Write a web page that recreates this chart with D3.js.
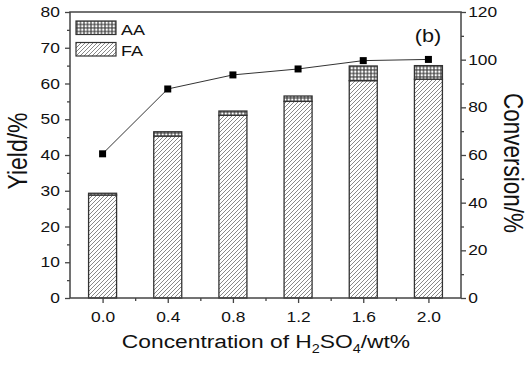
<!DOCTYPE html>
<html>
<head>
<meta charset="utf-8">
<script src="https://cdn.jsdelivr.net/npm/d3@7"></script>
<style>
  body { margin: 0; background: #fff; }
  svg { display: block; }
  text { font-family: "Liberation Sans", Arial, sans-serif; fill: #111; }
</style>
</head>
<body>
<svg id="chart" width="528" height="373"></svg>
<script>
const concentration = [0.0, 0.4, 0.8, 1.2, 1.6, 2.0];
const faYield = [28.8, 45.3, 51.1, 55.0, 60.8, 61.2];
const aaYield = [0.5, 1.2, 1.2, 1.5, 4.1, 3.8];
const conversion = [60.5, 87.7, 93.6, 96.1, 99.6, 100.1];

const xTicks = [0.0, 0.4, 0.8, 1.2, 1.6, 2.0];
const xMinor = [0.2, 0.6, 1.0, 1.4, 1.8];
const yTicks = [0, 10, 20, 30, 40, 50, 60, 70, 80];
const yMinor = [5, 15, 25, 35, 45, 55, 65, 75];
const y2Ticks = [0, 20, 40, 60, 80, 100, 120];
const y2Minor = [10, 30, 50, 70, 90, 110];

const area = { left: 70, right: 461, top: 12, bottom: 298 };
const stretch = 1.2; // text in the figure is a little wide
const axisColor = "#444";

const svg = d3.select("#chart");

const defs = svg.append("defs");
const hatch = defs.append("pattern")
    .attr("id", "hatch")
    .attr("patternUnits", "userSpaceOnUse")
    .attr("width", 4)
    .attr("height", 4);
hatch.append("rect").attr("width", 4).attr("height", 4).attr("fill", "#fff");
hatch.append("path")
    .attr("d", "M-1,1 L1,-1 M0,4 L4,0 M3,5 L5,3")
    .attr("stroke", "#6a6a6a")
    .attr("stroke-width", 0.8);

const dots = defs.append("pattern")
    .attr("id", "dots")
    .attr("patternUnits", "userSpaceOnUse")
    .attr("width", 3.5)
    .attr("height", 3.5);
dots.append("rect").attr("width", 3.5).attr("height", 3.5).attr("fill", "#555");
dots.append("circle").attr("cx", 1.75).attr("cy", 1.75).attr("r", 1.25).attr("fill", "#fff");

const scaleX = d3.scaleLinear().domain([-0.2, 2.2]).range([area.left, area.right]);
const scaleY = d3.scaleLinear().domain([0, 80]).range([area.bottom, area.top]);
const scaleY2 = d3.scaleLinear().domain([0, 120]).range([area.bottom, area.top]);

const barW = 28;

// stacked bars
const bars = svg.append("g");
concentration.forEach((c, i) => {
    const x = scaleX(c) - barW / 2;
    bars.append("rect")
        .attr("x", x)
        .attr("y", scaleY(faYield[i]))
        .attr("width", barW)
        .attr("height", scaleY(0) - scaleY(faYield[i]))
        .attr("fill", "url(#hatch)")
        .attr("stroke", "#333")
        .attr("stroke-width", 1.3);
    bars.append("rect")
        .attr("x", x)
        .attr("y", scaleY(faYield[i] + aaYield[i]))
        .attr("width", barW)
        .attr("height", scaleY(faYield[i]) - scaleY(faYield[i] + aaYield[i]))
        .attr("fill", "url(#dots)")
        .attr("stroke", "#333")
        .attr("stroke-width", 1.3);
});

// conversion line
const line = d3.line()
    .x((d, i) => scaleX(concentration[i]))
    .y(d => scaleY2(d));

svg.append("path")
    .datum(conversion)
    .attr("d", line)
    .attr("fill", "none")
    .attr("stroke", "#333")
    .attr("stroke-width", 1);

svg.append("g")
    .selectAll("rect")
    .data(conversion)
    .enter()
    .append("rect")
    .attr("x", (d, i) => scaleX(concentration[i]) - 3.5)
    .attr("y", d => scaleY2(d) - 3.5)
    .attr("width", 7)
    .attr("height", 7)
    .attr("fill", "#000");

// frame
svg.append("rect")
    .attr("x", area.left)
    .attr("y", area.top)
    .attr("width", area.right - area.left)
    .attr("height", area.bottom - area.top)
    .attr("fill", "none")
    .attr("stroke", axisColor)
    .attr("stroke-width", 1.5);

const styleAxis = (g, labelX) => {
    g.select(".domain").remove();
    g.selectAll("line").attr("stroke", axisColor).attr("stroke-width", 1.3);
    g.selectAll("text")
        .attr("font-size", 14.5)
        .attr("fill", "#111")
        .attr("transform", `scale(${stretch},1)`);
    if (labelX !== undefined) g.selectAll("text").attr("x", labelX);
};

svg.append("g")
    .attr("transform", `translate(${area.left},0)`)
    .call(d3.axisLeft(scaleY).tickValues(yTicks).tickSize(5).tickSizeOuter(0))
    .call(g => styleAxis(g, -8.5));
svg.append("g")
    .attr("transform", `translate(${area.left},0)`)
    .call(d3.axisLeft(scaleY).tickValues(yMinor).tickSize(3).tickFormat(""))
    .call(g => styleAxis(g));

svg.append("g")
    .attr("transform", `translate(${area.right},0)`)
    .call(d3.axisRight(scaleY2).tickValues(y2Ticks).tickSize(5).tickSizeOuter(0))
    .call(g => styleAxis(g, 6));
svg.append("g")
    .attr("transform", `translate(${area.right},0)`)
    .call(d3.axisRight(scaleY2).tickValues(y2Minor).tickSize(3).tickFormat(""))
    .call(g => styleAxis(g));

svg.append("g")
    .attr("transform", `translate(0,${area.bottom})`)
    .call(d3.axisBottom(scaleX).tickValues(xTicks).tickSize(5).tickSizeOuter(0)
        .tickFormat(d3.format(".1f")).tickPadding(9))
    .call(g => styleAxis(g));
svg.append("g")
    .attr("transform", `translate(0,${area.bottom})`)
    .call(d3.axisBottom(scaleX).tickValues(xMinor).tickSize(3).tickFormat(""))
    .call(g => styleAxis(g));

// stretched text helper
const label = (x, y, size, rot, anchor) => svg.append("text")
    .attr("transform", `translate(${x},${y}) scale(${stretch},1) rotate(${rot})`)
    .attr("font-size", size)
    .attr("text-anchor", anchor);

label(27, 151, 23, -90, "middle").text("Yield/%");
label(504, 163, 22.5, 90, "middle").text("Conversion/%");

const xt = label(266, 348, 19, 0, "middle");
xt.append("tspan").text("Concentration of H");
xt.append("tspan").attr("font-size", 12).attr("dy", 5).text("2");
xt.append("tspan").attr("dy", -5).text("SO");
xt.append("tspan").attr("font-size", 12).attr("dy", 5).text("4");
xt.append("tspan").attr("dy", -5).text("/wt%");

label(428, 42, 18, 0, "middle").text("(b)");

// legend
const legend = [["AA", "url(#dots)"], ["FA", "url(#hatch)"]];
legend.forEach(([name, fill], i) => {
    svg.append("rect")
        .attr("x", 76)
        .attr("y", 21 + i * 21.5)
        .attr("width", 40)
        .attr("height", 13.5)
        .attr("fill", fill)
        .attr("stroke", "#333")
        .attr("stroke-width", 1.2);
    label(121, 34.5 + i * 21.5, 15, 0, "start").text(name);
});
</script>
</body>
</html>
